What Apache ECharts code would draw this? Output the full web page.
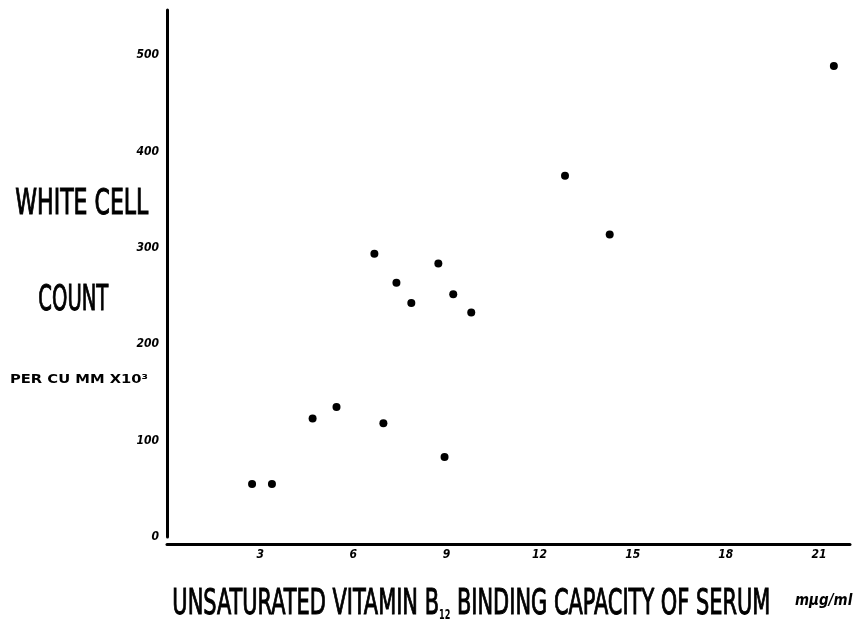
<!DOCTYPE html>
<html>
<head>
<meta charset="utf-8">
<style>
html,body{margin:0;padding:0;background:#fff;}
#chart{width:853px;height:623px;}
</style>
<script src="https://cdn.jsdelivr.net/npm/echarts@6/dist/echarts.min.js"></script>
</head>
<body>
<div id="chart"></div>
<script>
// Data
const bindingCapacity = [2.74, 3.38, 4.69, 5.46, 6.68, 6.97, 7.39, 7.87, 8.74, 8.94, 9.22, 9.80, 12.82, 14.26, 21.48];
const whiteCellCount  = [55, 55, 123, 135, 294, 118, 264, 243, 284, 83, 252, 233, 375, 314, 489];
const xTickLabels = [3, 6, 9, 12, 15, 18, 21];
const yTickLabels = [0, 100, 200, 300, 400, 500];

const points = bindingCapacity.map((x, i) => [x, whiteCellCount[i]]);

const chart = echarts.init(document.getElementById('chart'), null, {renderer: 'canvas'});

// helper: scale a text horizontally to fit a target width
const cvs = document.createElement('canvas').getContext('2d');
function measure(font, txt) { cvs.font = font; return cvs.measureText(txt).width; }

const fam = '"DejaVu Sans Condensed", "DejaVu Sans", sans-serif';

function fitText(txt, left, centerY, width, size, weight, strokeW) {
  const f = (weight || 'normal') + ' ' + size + 'px ' + fam;
  const w = measure(f, txt);
  return {
    type: 'text', left: left, top: centerY - size / 2,
    scaleX: width / w, originX: 0,
    style: { text: txt, font: f, fill: '#000', stroke: strokeW ? '#000' : null, lineWidth: strokeW || 0, textVerticalAlign: 'top' }
  };
}

// x axis title with subscript
const t1 = 'UNSATURATED VITAMIN B', t2 = '12', t3 = ' BINDING CAPACITY OF SERUM';
const tSize = 36, sSize = 14;
const wTitle = measure(tSize + 'px ' + fam, t1) + measure('bold ' + sSize + 'px ' + fam, t2) + measure(tSize + 'px ' + fam, t3);

const option = {
  backgroundColor: '#fff',
  animation: false,
  grid: { left: 167, top: 10, width: 685, height: 527, containLabel: false },
  xAxis: {
    type: 'value', min: 0, max: 22, interval: 3, offset: 7,
    axisLine: { show: true, onZero: false, lineStyle: { color: '#000', width: 3 } },
    axisTick: { show: false },
    splitLine: { show: false },
    axisLabel: {
      margin: 5, color: '#000', fontSize: 12, fontWeight: 'bold', fontStyle: 'italic', fontFamily: fam,
      formatter: v => xTickLabels.includes(v) ? String(v) : ''
    }
  },
  yAxis: {
    type: 'value', min: 0, max: 547, interval: 100,
    axisLine: { show: true, onZero: false, lineStyle: { color: '#000', width: 3 } },
    axisTick: { show: false },
    splitLine: { show: false },
    axisLabel: {
      margin: 8, color: '#000', fontSize: 12, fontWeight: 'bold', fontStyle: 'italic', fontFamily: fam,
      formatter: v => yTickLabels.includes(v) ? String(v) : ''
    }
  },
  series: [{
    type: 'scatter', data: points, symbol: 'circle', symbolSize: 8,
    itemStyle: { color: '#000', opacity: 1 }
  }],
  graphic: [
    fitText('WHITE CELL', 15, 204, 133, 36, 'normal', 1),
    fitText('COUNT', 38, 300, 70, 36, 'normal', 1),
    fitText('PER CU MM X10\u00B3', 10, 380, 138, 12, 'bold'),
    {
      type: 'text', left: 172, top: 604 - tSize / 2, scaleX: 598 / wTitle, originX: 0,
      style: {
        text: '{a|' + t1 + '}{s|' + t2 + '}{a|' + t3 + '}',
        rich: {
          a: { fontSize: tSize, fontFamily: fam, fill: '#000', stroke: '#000', lineWidth: 1, verticalAlign: 'bottom' },
          s: { fontSize: sSize, fontFamily: fam, fontWeight: 'bold', fill: '#000', verticalAlign: 'bottom' }
        }
      }
    },
    {
      type: 'text', left: 795, top: 594,
      style: { text: 'm\u03BCg/ml', font: 'bold italic 15px ' + fam, fill: '#000' }
    }
  ]
};
chart.setOption(option);
</script>
</body>
</html>
